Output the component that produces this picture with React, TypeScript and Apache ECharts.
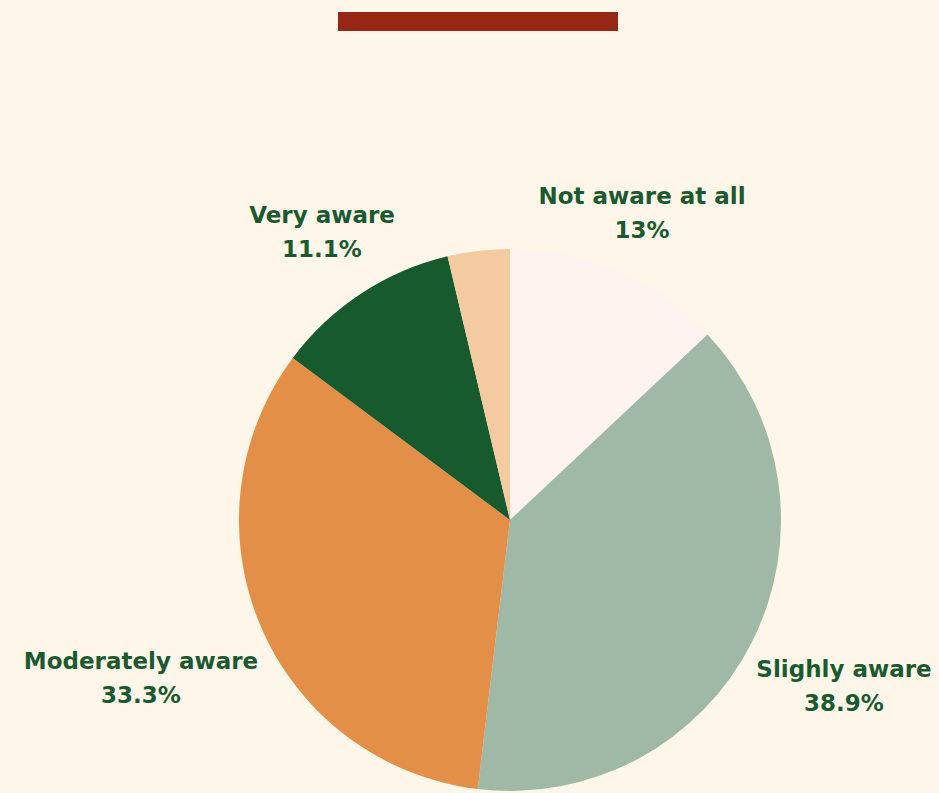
import React, { useEffect, useRef } from "react";
import * as echarts from "echarts";

const categories = ["Not aware at all", "Slighly aware", "Moderately aware", "Very aware", "Extremely aware"];
const values = [13, 38.9, 33.3, 11.1, 3.7];
const showLabel = [true, true, true, true, false];
const colors = ["#fef3ef", "#a0b8a6", "#e48f47", "#175a2e", "#f4cba0"];
const labelPos: [number, number][] = [
  [642, 213],
  [844, 686],
  [141, 678],
  [322, 232],
  [0, 0],
];

export default function App() {
  const ref = useRef<HTMLDivElement>(null);
  useEffect(() => {
    if (!ref.current) return;
    const chart = echarts.init(ref.current, undefined, { renderer: "svg" });
    chart.setOption({
      animation: false,
      backgroundColor: "#fff6ea",
      graphic: [
        {
          type: "rect",
          shape: { x: 338, y: 12, width: 280, height: 19 },
          style: { fill: "#952714" },
        },
      ],
      series: [
        {
          type: "pie",
          center: [510, 520],
          radius: 271,
          startAngle: 90,
          clockwise: true,
          data: categories.map((c, i) => ({
            name: c,
            value: values[i],
            itemStyle: { color: colors[i] },
            label: { show: showLabel[i] },
          })),
          label: {
            show: true,
            position: "outside",
            formatter: "{b}\n{c}%",
            color: "#1b5a2f",
            fontFamily: "DejaVu Sans",
            fontWeight: "bold",
            fontSize: 23,
            lineHeight: 34,
            align: "center",
            overflow: "none",
            width: 400,
          },
          labelLine: { show: false },
          labelLayout: (p: any) => ({
            x: labelPos[p.dataIndex][0],
            y: labelPos[p.dataIndex][1],
            align: "center",
            verticalAlign: "middle",
          }),
          emphasis: { disabled: true },
        },
      ],
    });
    return () => chart.dispose();
  }, []);
  return (
    <div
      ref={ref}
      style={{ position: "fixed", left: 0, top: 0, width: 939, height: 793 }}
    />
  );
}
